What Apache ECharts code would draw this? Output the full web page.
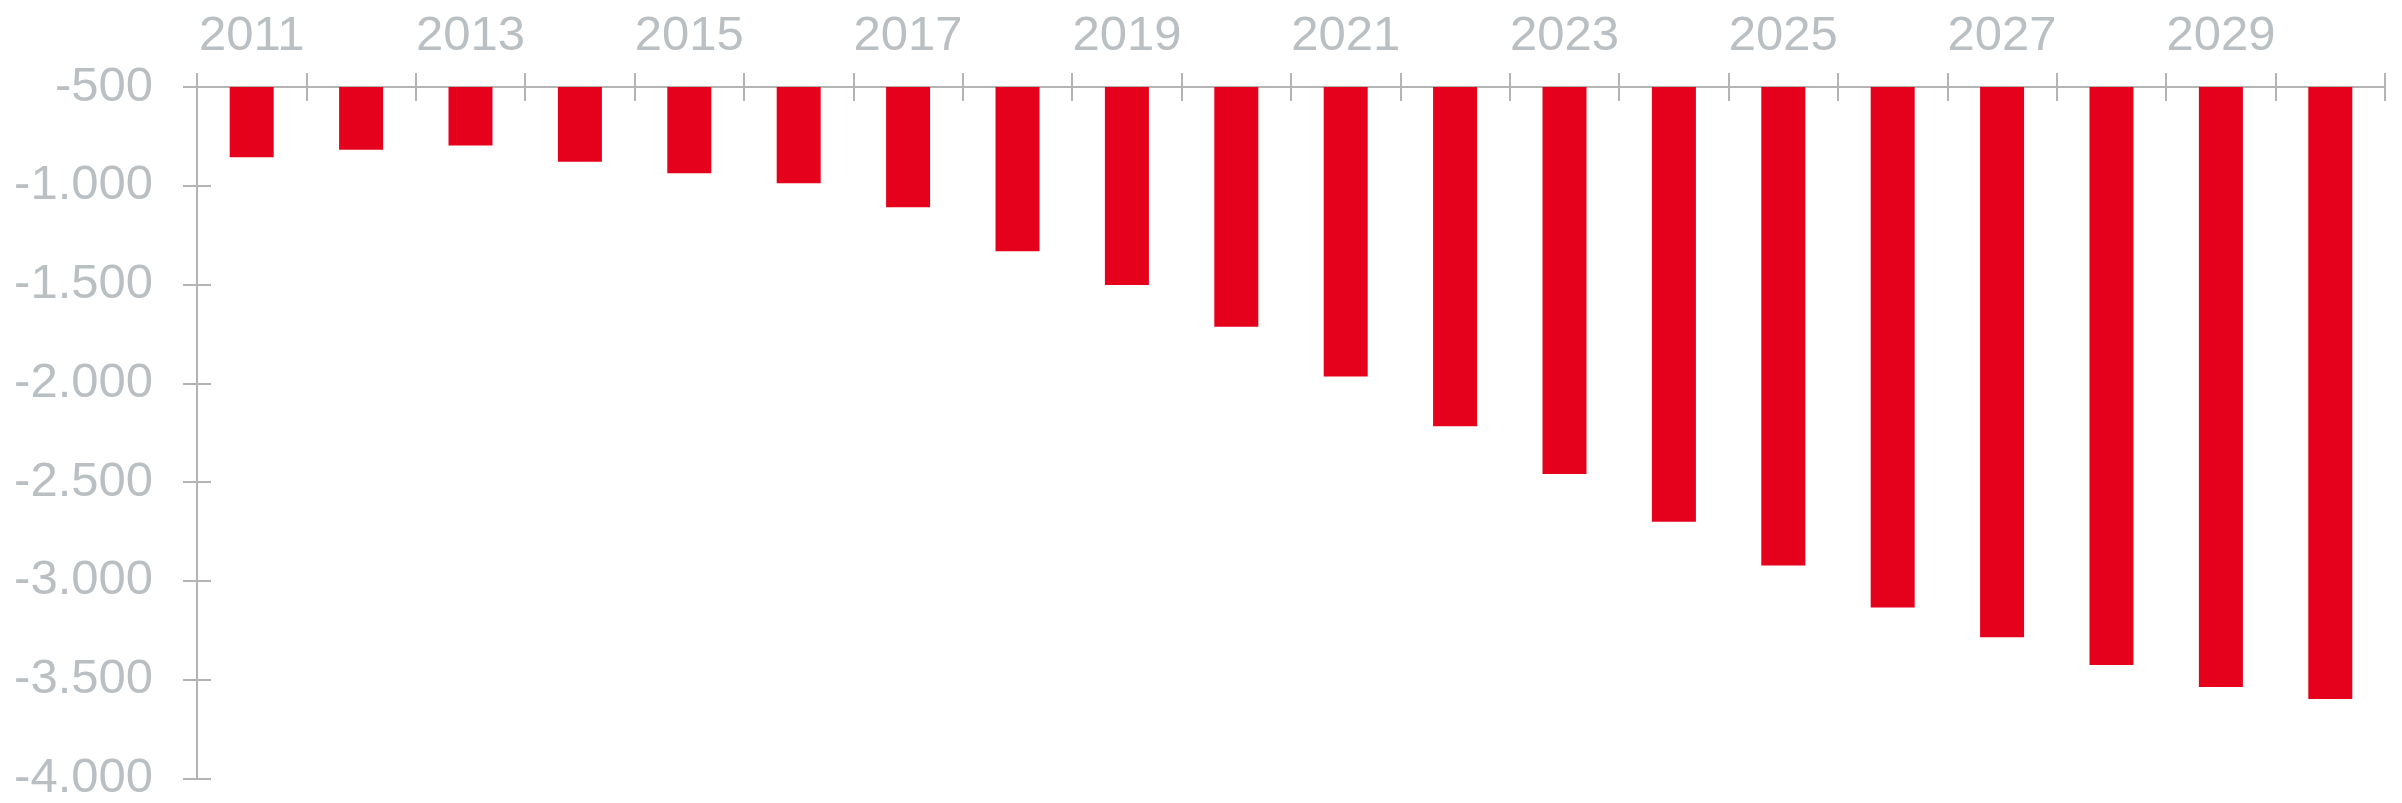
<!DOCTYPE html>
<html><head><meta charset="utf-8">
<script src="https://cdn.jsdelivr.net/npm/echarts@6/dist/echarts.min.js"></script>
<style>html,body{margin:0;padding:0;background:#fff}#c{width:2402px;height:803px}</style>
</head><body><div id="c"></div>
<script>
const years = ['2011','2012','2013','2014','2015','2016','2017','2018','2019','2020','2021','2022','2023','2024','2025','2026','2027','2028','2029','2030'];
const values = [-856,-817,-796,-878,-937,-987,-1109,-1331,-1502,-1714,-1965,-2217,-2459,-2701,-2922,-3134,-3285,-3426,-3537,-3597];
const yTicks = [-500,-1000,-1500,-2000,-2500,-3000,-3500,-4000];

const grey = '#b4b4b4';
const txt = '#b9bfc2';
const font = "'Liberation Sans', Arial, sans-serif";
const fmt = v => {
  const s = Math.abs(v).toString().replace(/\B(?=(\d{3})+(?!\d))/g, '.');
  return (v < 0 ? '-' : '') + s;
};
const yMin = Math.min(...yTicks), yMax = Math.max(...yTicks);
const yStep = yTicks[0] - yTicks[1];

const chart = echarts.init(document.getElementById('c'));
chart.setOption({
  animation: false,
  grid: {left: 197, right: 17, top: 87, bottom: 21},
  xAxis: [{
    type: 'category', data: years, position: 'top',
    axisLine: {show: true, lineStyle: {color: grey, width: 2}},
    axisTick: {show: true, inside: false, length: 14, interval: 0, lineStyle: {color: grey, width: 2}},
    axisLabel: {interval: 1, color: txt, fontSize: 49, fontFamily: font, margin: 26}
  }, {
    type: 'category', data: years, position: 'top',
    axisLine: {show: false},
    axisTick: {show: true, inside: true, length: 14, interval: 0, lineStyle: {color: grey, width: 2}},
    axisLabel: {show: false}
  }],
  yAxis: [{
    type: 'value', min: yMin, max: yMax, interval: yStep,
    axisLine: {show: true, lineStyle: {color: grey, width: 2}},
    axisTick: {show: true, inside: false, length: 14, lineStyle: {color: grey, width: 2}},
    axisLabel: {color: txt, fontSize: 49, fontFamily: font, margin: 44, formatter: fmt},
    splitLine: {show: false}
  }, {
    type: 'value', min: yMin, max: yMax, interval: yStep, position: 'left',
    axisLine: {show: false},
    axisTick: {show: true, inside: true, length: 14, lineStyle: {color: grey, width: 2}},
    axisLabel: {show: false},
    splitLine: {show: false}
  }],
  series: [{
    type: 'bar', data: values, barWidth: 44, clip: true,
    xAxisIndex: 0, yAxisIndex: 0,
    itemStyle: {color: '#e5001c'}
  }]
});
</script></body></html>
